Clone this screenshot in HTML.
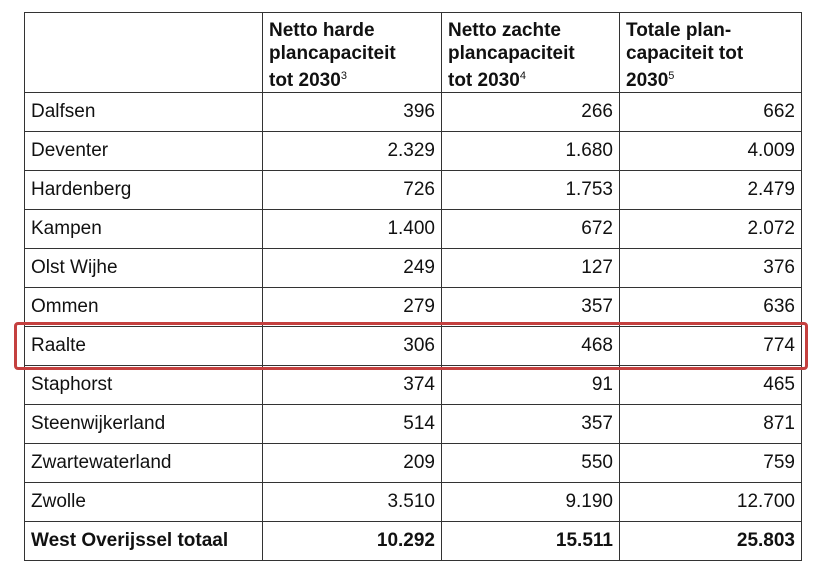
<!DOCTYPE html>
<html><head><meta charset="utf-8"><style>
body{margin:0;width:824px;height:574px;background:#fff;position:relative;overflow:hidden;font-family:"Liberation Sans",sans-serif;color:#111}
table{position:absolute;left:24px;top:12px;border-collapse:collapse;table-layout:fixed}
td,th{border:1px solid #333;padding:0 6px;font-size:19px;height:38px}
th{font-weight:bold;text-align:left;vertical-align:top;font-size:19px;line-height:23px;padding-top:6px;height:70px;white-space:nowrap}
td.n{text-align:right}
tr.tot td{font-weight:bold}
sup{font-size:11px;vertical-align:7px;font-weight:normal}
#hl{position:absolute;left:14px;top:322px;width:788px;height:42px;border:3px solid #c4403f;border-radius:4px}
</style></head><body>
<table>
<colgroup><col style="width:238px"><col style="width:179px"><col style="width:178px"><col style="width:182px"></colgroup>
<tr><th></th><th>Netto harde<br>plancapaciteit<br>tot 2030<sup>3</sup></th><th>Netto zachte<br>plancapaciteit<br>tot 2030<sup>4</sup></th><th>Totale plan-<br>capaciteit tot<br>2030<sup>5</sup></th></tr>
<tr><td>Dalfsen</td><td class="n">396</td><td class="n">266</td><td class="n">662</td></tr>
<tr><td>Deventer</td><td class="n">2.329</td><td class="n">1.680</td><td class="n">4.009</td></tr>
<tr><td>Hardenberg</td><td class="n">726</td><td class="n">1.753</td><td class="n">2.479</td></tr>
<tr><td>Kampen</td><td class="n">1.400</td><td class="n">672</td><td class="n">2.072</td></tr>
<tr><td>Olst Wijhe</td><td class="n">249</td><td class="n">127</td><td class="n">376</td></tr>
<tr><td>Ommen</td><td class="n">279</td><td class="n">357</td><td class="n">636</td></tr>
<tr><td>Raalte</td><td class="n">306</td><td class="n">468</td><td class="n">774</td></tr>
<tr><td>Staphorst</td><td class="n">374</td><td class="n">91</td><td class="n">465</td></tr>
<tr><td>Steenwijkerland</td><td class="n">514</td><td class="n">357</td><td class="n">871</td></tr>
<tr><td>Zwartewaterland</td><td class="n">209</td><td class="n">550</td><td class="n">759</td></tr>
<tr><td>Zwolle</td><td class="n">3.510</td><td class="n">9.190</td><td class="n">12.700</td></tr>
<tr class="tot"><td>West Overijssel totaal</td><td class="n">10.292</td><td class="n">15.511</td><td class="n">25.803</td></tr>
</table>
<div id="hl"></div>
</body></html>
